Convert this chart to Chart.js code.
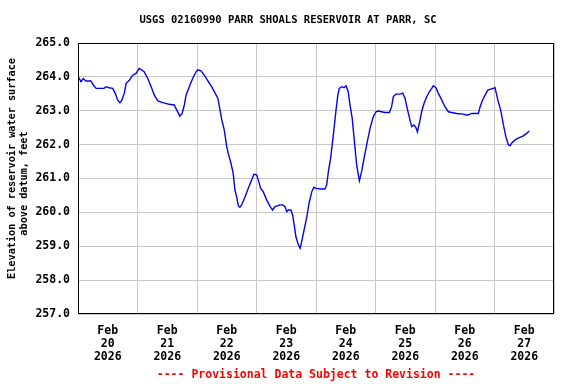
<!DOCTYPE html>
<html>
<head>
<meta charset="utf-8">
<script src="https://cdn.jsdelivr.net/npm/chart.js@4/dist/chart.umd.min.js"></script>
<style>
  html, body { margin: 0; padding: 0; background: #ffffff; }
  #wrap { width: 576px; height: 384px; }
</style>
</head>
<body>
<div id="wrap"><canvas id="c" width="576" height="384"></canvas></div>
<script>
// ---- data (hours since 2026-02-20 00:00, elevation in feet) ----
const hours = [0.3,1.2,2.1,3.2,5.2,6.2,7.3,10.5,11.3,12.5,14.0,15.1,16.0,16.9,17.6,18.7,19.4,20.7,22.1,23.4,
  24.7,26.7,28.1,29.5,30.8,32.2,34.2,36.8,38.8,39.5,41.1,42.0,42.9,43.6,44.9,46.3,47.6,48.3,49.6,50.9,
  52.6,53.9,55.3,56.4,57.3,58.0,59.0,60.0,60.6,61.7,62.6,63.3,64.0,64.7,65.3,66.0,67.4,68.7,70.1,71.0,
  72.1,72.7,73.7,74.7,76.1,77.5,78.5,79.5,81.5,82.6,83.5,84.2,84.8,85.9,86.6,87.3,87.9,88.9,89.6,90.2,
  91.2,92.3,93.2,94.3,95.2,96.0,97.9,99.6,100.3,101.0,101.9,103.0,104.0,104.8,105.4,106.4,107.3,108.1,109.0,109.7,
  110.6,111.5,112.4,113.5,114.4,115.4,116.7,117.8,119.1,120.2,121.1,123.8,125.6,126.5,127.2,128.3,129.9,131.0,131.9,132.8,
  133.6,134.6,135.5,136.3,136.9,137.7,138.6,139.6,140.7,141.7,142.7,143.3,144.4,145.3,146.7,148.0,149.4,150.7,152.8,155.4,
  157.0,158.8,161.5,162.2,163.2,164.2,165.3,166.5,168.2,168.9,169.5,170.5,171.6,172.6,173.6,174.3,174.9,176.3,177.6,179.6,
  181.0,182.0];
const elevation = [263.98,263.86,263.95,263.88,263.88,263.76,263.66,263.66,263.71,263.68,263.66,263.50,263.32,263.24,263.30,263.52,263.81,263.90,264.05,264.10,
  264.25,264.15,263.96,263.71,263.46,263.29,263.24,263.19,263.17,263.07,262.84,262.92,263.17,263.46,263.71,263.96,264.15,264.21,264.18,264.05,
  263.86,263.71,263.52,263.37,263.02,262.73,262.43,261.94,261.74,261.45,261.15,260.66,260.46,260.19,260.15,260.22,260.46,260.71,260.96,261.13,
  261.10,260.96,260.71,260.61,260.37,260.17,260.07,260.17,260.22,260.22,260.17,260.02,260.07,260.07,259.92,259.58,259.28,259.04,258.94,259.13,
  259.48,259.87,260.27,260.61,260.74,260.71,260.69,260.69,260.81,261.20,261.60,262.28,262.97,263.46,263.66,263.71,263.68,263.74,263.56,263.17,
  262.78,262.09,261.40,260.93,261.20,261.60,262.09,262.48,262.82,262.97,262.99,262.95,262.95,263.12,263.42,263.49,263.49,263.52,263.37,263.07,
  262.82,262.53,262.58,262.50,262.38,262.63,262.97,263.22,263.42,263.56,263.66,263.74,263.68,263.52,263.32,263.12,262.97,262.95,262.92,262.90,
  262.87,262.92,262.92,263.12,263.32,263.46,263.61,263.64,263.68,263.46,263.27,263.02,262.58,262.23,261.99,261.97,262.04,262.14,262.19,262.26,
  262.33,262.40];
const dayLabels = ['20','21','22','23','24','25','26','27'];
const monthLabel = 'Feb';
const yearLabel = '2026';
const yTicks = [257,258,259,260,261,262,263,264,265];
const titleText = 'USGS 02160990 PARR SHOALS RESERVOIR AT PARR, SC';
const yTitleLines = ['Elevation of reservoir water surface', 'above datum, feet'];
const footerText = '---- Provisional Data Subject to Revision ----';

const MONO = "'DejaVu Sans Mono', 'Liberation Mono', monospace";
Chart.defaults.font.family = MONO;
Chart.defaults.color = '#000000';

const yTitlePlugin = {
  id: 'yTitle',
  afterDraw(chart) {
    const ctx = chart.ctx;
    ctx.save();
    ctx.fillStyle = '#000000';
    ctx.font = 'bold 10.2px ' + MONO;
    ctx.textAlign = 'center';
    ctx.textBaseline = 'middle';
    const pos = [[12.5, 168.5], [24.5, 183.5]];
    yTitleLines.forEach((t, i) => {
      ctx.save();
      ctx.translate(pos[i][0], pos[i][1]);
      ctx.rotate(-Math.PI / 2);
      ctx.fillText(t, 0, 0);
      ctx.restore();
    });
    // plot frame
    const a = chart.chartArea;
    ctx.strokeStyle = '#000000';
    ctx.lineWidth = 1;
    ctx.strokeRect(Math.round(a.left) + 0.5, Math.round(a.top) + 0.5,
                   Math.round(a.right - a.left) - 1, Math.round(a.bottom - a.top) - 1);
    ctx.restore();
  }
};

new Chart(document.getElementById('c'), {
  type: 'line',
  data: {
    datasets: [{
      data: hours.map((h, i) => ({ x: h, y: elevation[i] })),
      borderColor: '#0000ff',
      borderWidth: 1.4,
      pointRadius: 0,
      tension: 0,
      fill: false
    }]
  },
  options: {
    responsive: false,
    animation: false,
    layout: { padding: { left: 0, right: 0, top: 0, bottom: 0 } },
    plugins: {
      legend: { display: false },
      tooltip: { enabled: false },
      title: {
        display: true,
        text: titleText,
        color: '#000000',
        font: { family: MONO, size: 10.5, weight: 'bold', lineHeight: 1.2 },
        padding: { top: 13.7, bottom: 16.7 }
      },
      subtitle: {
        display: true,
        position: 'bottom',
        fullSize: false,
        text: footerText,
        color: '#ff0000',
        font: { family: MONO, size: 11.5, weight: 'bold', lineHeight: 1.2 },
        padding: { top: 4.6, bottom: 1.6 }
      }
    },
    scales: {
      x: {
        type: 'linear',
        min: 0,
        max: 192,
        afterBuildTicks: (scale) => {
          scale.ticks = dayLabels.map((d, i) => ({ value: 12 + 24 * i }));
        },
        afterFit: (scale) => { scale.height = 50; },
        grid: { color: '#c8c8c8', offset: true, drawTicks: false, lineWidth: 1 },
        border: { display: false },
        ticks: {
          padding: 11,
          maxRotation: 0,
          autoSkip: false,
          color: '#000000',
          font: { family: MONO, size: 11.5, weight: 'bold', lineHeight: 1.13 },
          callback: (v, i) => [monthLabel, dayLabels[i], yearLabel]
        }
      },
      y: {
        min: 257,
        max: 265,
        afterBuildTicks: (scale) => {
          scale.ticks = yTicks.map(v => ({ value: v }));
        },
        afterFit: (scale) => { scale.width = 78; },
        grid: { color: '#c8c8c8', drawTicks: false, lineWidth: 1 },
        border: { display: false },
        ticks: {
          padding: 8,
          color: '#000000',
          font: { family: MONO, size: 11.5, weight: 'bold' },
          callback: (v) => Number(v).toFixed(1)
        }
      },
      yRightSpace: {
        position: 'right',
        min: 257,
        max: 265,
        afterFit: (scale) => { scale.width = 22; },
        grid: { display: false, drawOnChartArea: false },
        border: { display: false },
        ticks: { display: false }
      }
    }
  },
  plugins: [yTitlePlugin]
});
</script>
</body>
</html>
